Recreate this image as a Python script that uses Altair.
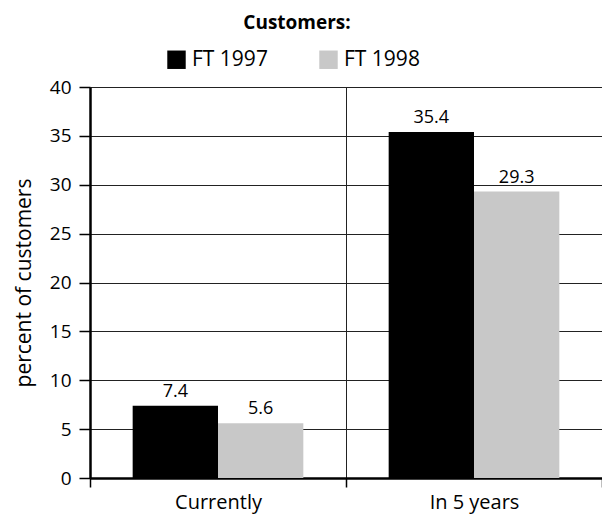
import altair as alt
import pandas as pd

categories = ["Currently", "In 5 years"]
series = ["FT 1997", "FT 1998"]
ft1997 = [7.4, 35.4]
ft1998 = [5.6, 29.3]
y_ticks = [0, 5, 10, 15, 20, 25, 30, 35, 40]

rows = []
for c, a, b in zip(categories, ft1997, ft1998):
    rows.append({"period": c, "series": series[0], "value": a})
    rows.append({"period": c, "series": series[1], "value": b})
df = pd.DataFrame(rows)

FONT = "Open Sans"

x = alt.X(
    "period:N", sort=categories, title=None,
    scale=alt.Scale(paddingInner=0, paddingOuter=0),
    axis=alt.Axis(tickBand="extent", grid=True, gridColor="#222222", gridWidth=1,
                  domain=True, domainColor="black", domainWidth=2.5,
                  ticks=True, tickSize=9, tickColor="black", tickWidth=1.5,
                  labelAngle=0, labelFontSize=20, labelFont=FONT, labelColor="black",
                  labelPadding=5),
)
xo = alt.XOffset("series:N", sort=series, scale=alt.Scale(paddingInner=0, paddingOuter=0.5))
y = alt.Y(
    "value:Q", scale=alt.Scale(domain=[0, 40]),
    axis=alt.Axis(values=y_ticks, title="percent of customers", titleFont=FONT,
                  titleFontSize=21, titleFontWeight="normal", titleColor="black",
                  titlePadding=15, labelFont=FONT, labelFontSize=19, labelColor="black",
                  labelPadding=8, tickSize=11, tickColor="black", tickWidth=1.5,
                  domainColor="black", domainWidth=2.5, grid=True,
                  gridColor="#222222", gridWidth=1),
)

bars = alt.Chart(df).mark_bar().encode(
    x=x, xOffset=xo, y=y,
    color=alt.Color(
        "series:N", sort=series,
        scale=alt.Scale(domain=series, range=["#000000", "#c8c8c8"]),
        legend=alt.Legend(title=None, orient="none", legendX=76, legendY=-38,
                          direction="horizontal", symbolType="square", symbolSize=340,
                          symbolStrokeWidth=0, labelFont=FONT, labelFontSize=21,
                          labelColor="black", columnPadding=50, labelOffset=5),
    ),
)

text = alt.Chart(df).mark_text(dy=-14, fontSize=18, font=FONT, color="black").encode(
    x=x, xOffset=xo, y=y, text=alt.Text("value:Q", format=".1f")
)

chart = alt.layer(bars, text).properties(
    width=512, height=391,
    autosize=alt.AutoSizeParams(type="none"),
    padding={"left": 82, "top": 79, "right": 0, "bottom": 40},
    title=alt.TitleParams("Customers:", font=FONT, fontSize=19, fontWeight="bold",
                          color="black", anchor="middle", dx=-49, offset=16),
).configure_view(stroke=None)

chart.save("out.html", embed_options={"renderer": "svg", "actions": False})
